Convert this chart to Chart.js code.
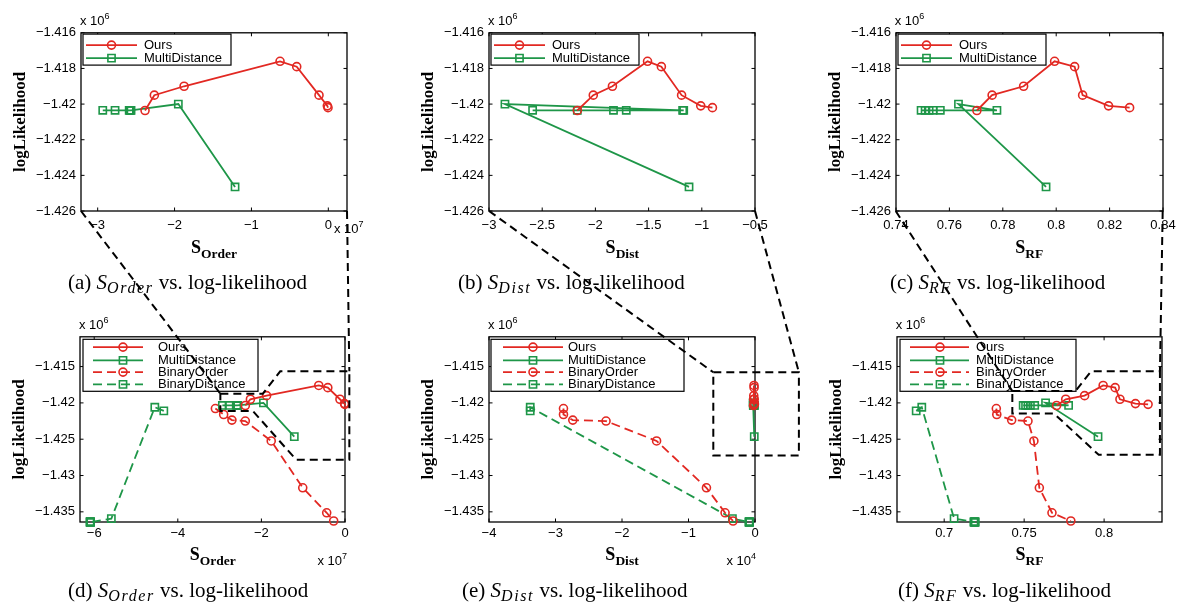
<!DOCTYPE html>
<html>
<head>
<meta charset="utf-8">
<title>S vs. log-likelihood</title>
<script src="https://cdn.jsdelivr.net/npm/chart.js@4.4.1/dist/chart.umd.min.js"></script>
<style>
  html, body { margin: 0; padding: 0; background: #fff; }
  body { position: relative; width: 1181px; height: 608px; overflow: hidden; }
  .panel { position: absolute; }
  .txt { position: absolute; white-space: nowrap; line-height: 1; color: #000; }
  .sans { font-family: "Liberation Sans", Arial, Helvetica, sans-serif; font-size: 13px; }
  .sans sup { font-size: 9px; line-height: 0; vertical-align: 6px; }
  .axt { font-family: "Liberation Serif", "Times New Roman", serif; font-weight: bold; font-size: 18px; text-align: center; }
  .axt sub { font-size: 13.5px; line-height: 0; vertical-align: -5px; }
  .cap { font-family: "Liberation Serif", "Times New Roman", serif; font-size: 21px; }
  .cap sub { font-size: 16px; font-style: italic; letter-spacing: 1.6px; line-height: 0; vertical-align: -4px; }
  #overlay { position: absolute; left: 0; top: 0; z-index: 5; pointer-events: none; }
</style>
</head>
<body>
<canvas id="overlay" width="1181" height="608"></canvas>
<script>
// ---- values ----
// log-likelihood (x 10^6), same runs in every panel
const oursLL     = [-1.42036, -1.4195, -1.4190, -1.4176, -1.4179, -1.4195, -1.4201, -1.4202];
const multiLL    = [-1.42035, -1.42035, -1.42035, -1.42035, -1.42035, -1.42035, -1.4200, -1.42465];
const binOrderLL = [-1.42078, -1.4216, -1.42237, -1.4225, -1.42524, -1.43169, -1.43513, -1.43626];
const binDistLL  = [-1.4211, -1.4206, -1.43593, -1.4364, -1.4364, -1.4364, -1.4364, -1.4364];

// S_Order (x 10^7)
const oursOrder     = [-2.384, -2.263, -1.876, -0.628, -0.411, -0.121, -0.013, -0.004];
const multiOrder    = [-2.934, -2.774, -2.59, -2.58, -2.575, -2.566, -1.951, -1.213];
const binOrderOrder = [-3.101, -2.903, -2.705, -2.385, -1.765, -1.011, -0.438, -0.271];
const binDistOrder  = [-4.335, -4.55, -5.59, -6.09, -6.09, -6.095, -6.095, -6.10];

// S_Dist, top panel
const oursDist  = [-2.17, -2.02, -1.84, -1.51, -1.38, -1.19, -1.01, -0.90];
const multiDist = [-2.59, -2.17, -1.83, -1.71, -1.18, -1.17, -2.85, -1.12];
// S_Dist, bottom panel (x 10^4)
const oursDist4     = [-0.0217, -0.0202, -0.0184, -0.0151, -0.0138, -0.0119, -0.0101, -0.0090];
const multiDist4    = [-0.0259, -0.0217, -0.0183, -0.0171, -0.0118, -0.0117, -0.0285, -0.0112];
const binOrderDist4 = [-2.88, -2.88, -2.74, -2.24, -1.48, -0.73, -0.45, -0.33];
const binDistDist4  = [-3.38, -3.38, -0.34, -0.09, -0.088, -0.086, -0.084, -0.082];

// S_RF
const oursRF     = [0.7703, 0.776, 0.7878, 0.7994, 0.8069, 0.8099, 0.8196, 0.8275];
const multiRF    = [0.7494, 0.7509, 0.7524, 0.7539, 0.7566, 0.7778, 0.7634, 0.7962];
const binOrderRF = [0.7326, 0.7329, 0.7422, 0.7524, 0.7561, 0.7595, 0.7674, 0.7792];
const binDistRF  = [0.6825, 0.686, 0.7062, 0.7186, 0.7188, 0.719, 0.7192, 0.7194];

// tick labels
const llTicksTop       = [-1.426, -1.424, -1.422, -1.42, -1.418, -1.416];
const llTicksBottom    = [-1.435, -1.43, -1.425, -1.42, -1.415];
const orderTicksTop    = [-3, -2, -1, 0];
const distTicksTop     = [-3, -2.5, -2, -1.5, -1, -0.5];
const rfTicksTop       = [0.74, 0.76, 0.78, 0.8, 0.82, 0.84];
const orderTicksBottom = [-6, -4, -2, 0];
const distTicksBottom  = [-4, -3, -2, -1, 0];
const rfTicksBottom    = [0.7, 0.75, 0.8];

const seriesNames = ['Ours', 'MultiDistance', 'BinaryOrder', 'BinaryDistance'];

// ---- styles ----
const RED = 'rgb(226, 40, 34)';
const GREEN = 'rgb(30, 150, 72)';
const seriesStyle = [
  { color: RED, marker: 'circle', dash: [] },
  { color: GREEN, marker: 'rect', dash: [] },
  { color: RED, marker: 'circle', dash: [9, 5] },
  { color: GREEN, marker: 'rect', dash: [9, 5] }
];

// legend boxes, offsets from the chart area corner
const legendTop = { x: 2, y: 1.3, w: 148, h: 31, rows: [12.3, 25.3], l0: 5, l1: 56, m: 30.5, tx: 63 };
const legendD = { x: 3, y: 2.5, w: 175, h: 52, rows: [10.3, 23.6, 35.3, 47.6], l0: 13, l1: 63, m: 43, tx: 78 };
const legendE = { x: 2, y: 2.5, w: 193, h: 52, rows: [10.3, 23.6, 35.3, 47.6], l0: 14, l1: 74, m: 44, tx: 79 };
const legendF = { x: 3, y: 2.5, w: 176, h: 52, rows: [10.3, 23.6, 35.3, 47.6], l0: 13, l1: 72, m: 43, tx: 79 };

const panels = [
  { id: 'a', row: 0, area: [81, 32, 347, 211], xMin: -3.217, xMax: 0.243, xTicks: orderTicksTop,
    xs: [oursOrder, multiOrder], ys: [oursLL, multiLL], legend: legendTop,
    sub: 'Order', letter: '(a)', capX: 68, xMult: { left: 334, base: 233, exp: 7 } },
  { id: 'b', row: 0, area: [489, 32, 755.5, 211], xMin: -3, xMax: -0.5, xTicks: distTicksTop,
    xs: [oursDist, multiDist], ys: [oursLL, multiLL], legend: legendTop,
    sub: 'Dist', letter: '(b)', capX: 458 },
  { id: 'c', row: 0, area: [895.7, 32, 1162.7, 211], xMin: 0.74, xMax: 0.84, xTicks: rfTicksTop,
    xs: [oursRF, multiRF], ys: [oursLL, multiLL], legend: legendTop,
    sub: 'RF', letter: '(c)', capX: 890 },
  { id: 'd', row: 1, area: [80, 335.7, 345.7, 522.3], xMin: -6.34, xMax: 0, xTicks: orderTicksBottom,
    xs: [oursOrder, multiOrder, binOrderOrder, binDistOrder], ys: [oursLL, multiLL, binOrderLL, binDistLL],
    legend: legendD, sub: 'Order', letter: '(d)', capX: 68, xMult: { right: 347, base: 565, exp: 7 } },
  { id: 'e', row: 1, area: [489, 335.7, 755, 522.3], xMin: -4, xMax: 0, xTicks: distTicksBottom,
    xs: [oursDist4, multiDist4, binOrderDist4, binDistDist4], ys: [oursLL, multiLL, binOrderLL, binDistLL],
    legend: legendE, sub: 'Dist', letter: '(e)', capX: 462, xMult: { right: 756, base: 565, exp: 4 } },
  { id: 'f', row: 1, area: [896.7, 335.7, 1162.3, 522.3], xMin: 0.6705, xMax: 0.8362, xTicks: rfTicksBottom,
    xs: [oursRF, multiRF, binOrderRF, binDistRF], ys: [oursLL, multiLL, binOrderLL, binDistLL],
    legend: legendF, sub: 'RF', letter: '(f)', capX: 898 }
];

const yRange = [{ min: -1.426, max: -1.416, ticks: llTicksTop }, { min: -1.4364, max: -1.4109, ticks: llTicksBottom }];

// zoom outlines, in the data units of the lower panel
const zooms = [
  { from: 'a', to: 'd', links: [0, 3],
    poly: [[-2.982, -1.41877], [-1.965, -1.41877], [-1.55, -1.41569], [0.104, -1.41569],
           [0.104, -1.42787], [-1.168, -1.42787], [-2.204, -1.42115], [-2.982, -1.42115]] },
  { from: 'b', to: 'e', links: [0, 1],
    poly: [[-0.627, -1.41583], [0.66, -1.41583], [0.66, -1.42728], [-0.627, -1.42728]] },
  { from: 'c', to: 'f', links: [0, 3],
    poly: [[0.7428, -1.41842], [0.7823, -1.41842], [0.7921, -1.41569], [0.8351, -1.41569],
           [0.8351, -1.42719], [0.7968, -1.42719], [0.7688, -1.4215], [0.7428, -1.4215]] }
];

const fmt = v => String(Number(v.toFixed(4))).replace('-', '\u2212');
const tickFont = { family: '"Liberation Sans", Arial, sans-serif', size: 13 };

function drawMarker(ctx, style, x, y) {
  ctx.beginPath();
  if (style === 'rect') ctx.rect(x - 3.6, y - 3.6, 7.2, 7.2);
  else ctx.arc(x, y, 4, 0, Math.PI * 2);
  ctx.stroke();
}

// box round the axes with inward ticks, like matlab
const matlabAxes = {
  id: 'matlabAxes',
  beforeDatasetsDraw(chart) {
    const { ctx, chartArea: a } = chart;
    const { x, y } = chart.scales;
    ctx.save();
    ctx.strokeStyle = '#000';
    ctx.lineWidth = 1.3;
    ctx.strokeRect(a.left, a.top, a.right - a.left, a.bottom - a.top);
    ctx.lineWidth = 1;
    ctx.beginPath();
    x.ticks.forEach(t => {
      const px = x.getPixelForValue(t.value);
      ctx.moveTo(px, a.bottom); ctx.lineTo(px, a.bottom - 3.5);
      ctx.moveTo(px, a.top); ctx.lineTo(px, a.top + 3.5);
    });
    y.ticks.forEach(t => {
      const py = y.getPixelForValue(t.value);
      ctx.moveTo(a.left, py); ctx.lineTo(a.left + 3.5, py);
      ctx.moveTo(a.right, py); ctx.lineTo(a.right - 3.5, py);
    });
    ctx.stroke();
    ctx.restore();
  }
};

const boxLegend = {
  id: 'boxLegend',
  afterDatasetsDraw(chart, args, opt) {
    const { ctx, chartArea: a } = chart;
    const x0 = a.left + opt.x, y0 = a.top + opt.y;
    ctx.save();
    ctx.fillStyle = '#fff';
    ctx.fillRect(x0, y0, opt.w, opt.h);
    ctx.strokeStyle = '#000';
    ctx.lineWidth = 1.2;
    ctx.strokeRect(x0, y0, opt.w, opt.h);
    ctx.font = '13px "Liberation Sans", Arial, sans-serif';
    ctx.textBaseline = 'middle';
    chart.data.datasets.forEach((ds, i) => {
      const yy = a.top + opt.rows[i];
      ctx.strokeStyle = ds.borderColor;
      ctx.lineWidth = ds.borderWidth;
      ctx.setLineDash(ds.borderDash);
      ctx.beginPath();
      ctx.moveTo(a.left + opt.l0, yy);
      ctx.lineTo(a.left + opt.l1, yy);
      ctx.stroke();
      ctx.setLineDash([]);
      ctx.lineWidth = 1.6;
      drawMarker(ctx, ds.pointStyle, a.left + opt.m, yy);
      ctx.fillStyle = '#000';
      ctx.fillText(ds.label, a.left + opt.tx, yy + 0.5);
    });
    ctx.restore();
  }
};

function addText(cls, html, left, baseline, size, css) {
  const el = document.createElement('div');
  el.className = 'txt ' + cls;
  el.innerHTML = html;
  el.style.top = (baseline - 0.845 * size) + 'px';
  if (left !== null) el.style.left = left + 'px';
  Object.assign(el.style, css || {});
  document.body.appendChild(el);
  return el;
}

const YW = 75, PADT = 12, PADR = 20, XH = 35;
const built = {};

panels.forEach(p => {
  const [l, t, r, b] = p.area;
  const yr = yRange[p.row];
  const box = { left: l - YW, top: t - PADT, width: r - l + YW + PADR, height: b - t + PADT + XH };
  const div = document.createElement('div');
  div.className = 'panel';
  div.style.left = box.left + 'px';
  div.style.top = box.top + 'px';
  const cv = document.createElement('canvas');
  cv.width = box.width;
  cv.height = box.height;
  div.appendChild(cv);
  document.body.appendChild(div);

  const datasets = p.xs.map((xs, i) => ({
    label: seriesNames[i],
    data: xs.map((x, k) => ({ x: x, y: p.ys[i][k] })),
    showLine: true,
    borderColor: seriesStyle[i].color,
    backgroundColor: 'rgba(0,0,0,0)',
    borderWidth: 1.8,
    borderDash: seriesStyle[i].dash,
    pointStyle: seriesStyle[i].marker,
    pointRadius: seriesStyle[i].marker === 'rect' ? 5.1 : 4,
    pointBorderWidth: 1.6,
    pointBorderColor: seriesStyle[i].color,
    pointBackgroundColor: 'rgba(0,0,0,0)',
    clip: false
  }));

  const chart = new Chart(cv, {
    type: 'scatter',
    data: { datasets: datasets },
    options: {
      responsive: false,
      animation: false,
      events: [],
      layout: { padding: { left: 0, top: PADT, right: PADR, bottom: 0 } },
      plugins: { legend: { display: false }, tooltip: { enabled: false }, boxLegend: p.legend },
      scales: {
        x: {
          type: 'linear', min: p.xMin, max: p.xMax,
          afterFit: s => { s.height = XH; },
          afterBuildTicks: s => { s.ticks = p.xTicks.map(v => ({ value: v })); },
          ticks: { callback: fmt, font: tickFont, color: '#000', padding: p.row ? 4 : 7, autoSkip: false, maxRotation: 0 },
          grid: { display: false, drawTicks: false },
          border: { display: false }
        },
        y: {
          type: 'linear', min: yr.min, max: yr.max,
          afterFit: s => { s.width = YW; },
          afterBuildTicks: s => { s.ticks = yr.ticks.map(v => ({ value: v })); },
          ticks: { callback: fmt, font: tickFont, color: '#000', padding: 5, autoSkip: false },
          grid: { display: false, drawTicks: false },
          border: { display: false },
          title: {
            display: true, text: 'logLikelihood', color: '#000',
            font: { family: '"Liberation Serif", "Times New Roman", serif', size: 17, weight: 'bold' },
            padding: { top: 4, bottom: 0 }
          }
        }
      }
    },
    plugins: [matlabAxes, boxLegend]
  });
  built[p.id] = { chart: chart, left: box.left, top: box.top };

  // texts around the axes
  addText('sans', 'x 10<sup>6</sup>', l - 1, t - 7, 13);
  addText('axt', 'S<sub>' + p.sub + '</sub>', l, b + (p.row ? 38 : 42), 18, { width: (r - l) + 'px' });
  if (p.xMult) {
    const m = p.xMult;
    const el = addText('sans', 'x 10<sup>' + m.exp + '</sup>', m.left !== undefined ? m.left : null, m.base, 13);
    if (m.right !== undefined) el.style.right = (1181 - m.right) + 'px';
  }
  addText('cap', p.letter + ' <i>S</i><sub>' + p.sub + '</sub> vs. log-likelihood', p.capX, p.row ? 598 : 290, 21);
});

// dashed zoom outlines and the lines joining them to the upper panels
const ov = document.getElementById('overlay').getContext('2d');
ov.strokeStyle = '#000';
ov.lineWidth = 2;
ov.setLineDash([8, 5]);
zooms.forEach(z => {
  const up = built[z.from], low = built[z.to];
  const pts = z.poly.map(([x, y]) => [
    low.left + low.chart.scales.x.getPixelForValue(x),
    low.top + low.chart.scales.y.getPixelForValue(y)
  ]);
  ov.beginPath();
  pts.forEach((pt, i) => (i ? ov.lineTo(pt[0], pt[1]) : ov.moveTo(pt[0], pt[1])));
  ov.closePath();
  ov.stroke();
  const ca = up.chart.chartArea;
  const corners = [[up.left + ca.left, up.top + ca.bottom], [up.left + ca.right, up.top + ca.bottom]];
  z.links.forEach((k, j) => {
    ov.beginPath();
    ov.moveTo(corners[j][0], corners[j][1]);
    ov.lineTo(pts[k][0], pts[k][1]);
    ov.stroke();
  });
});
</script>
</body>
</html>
